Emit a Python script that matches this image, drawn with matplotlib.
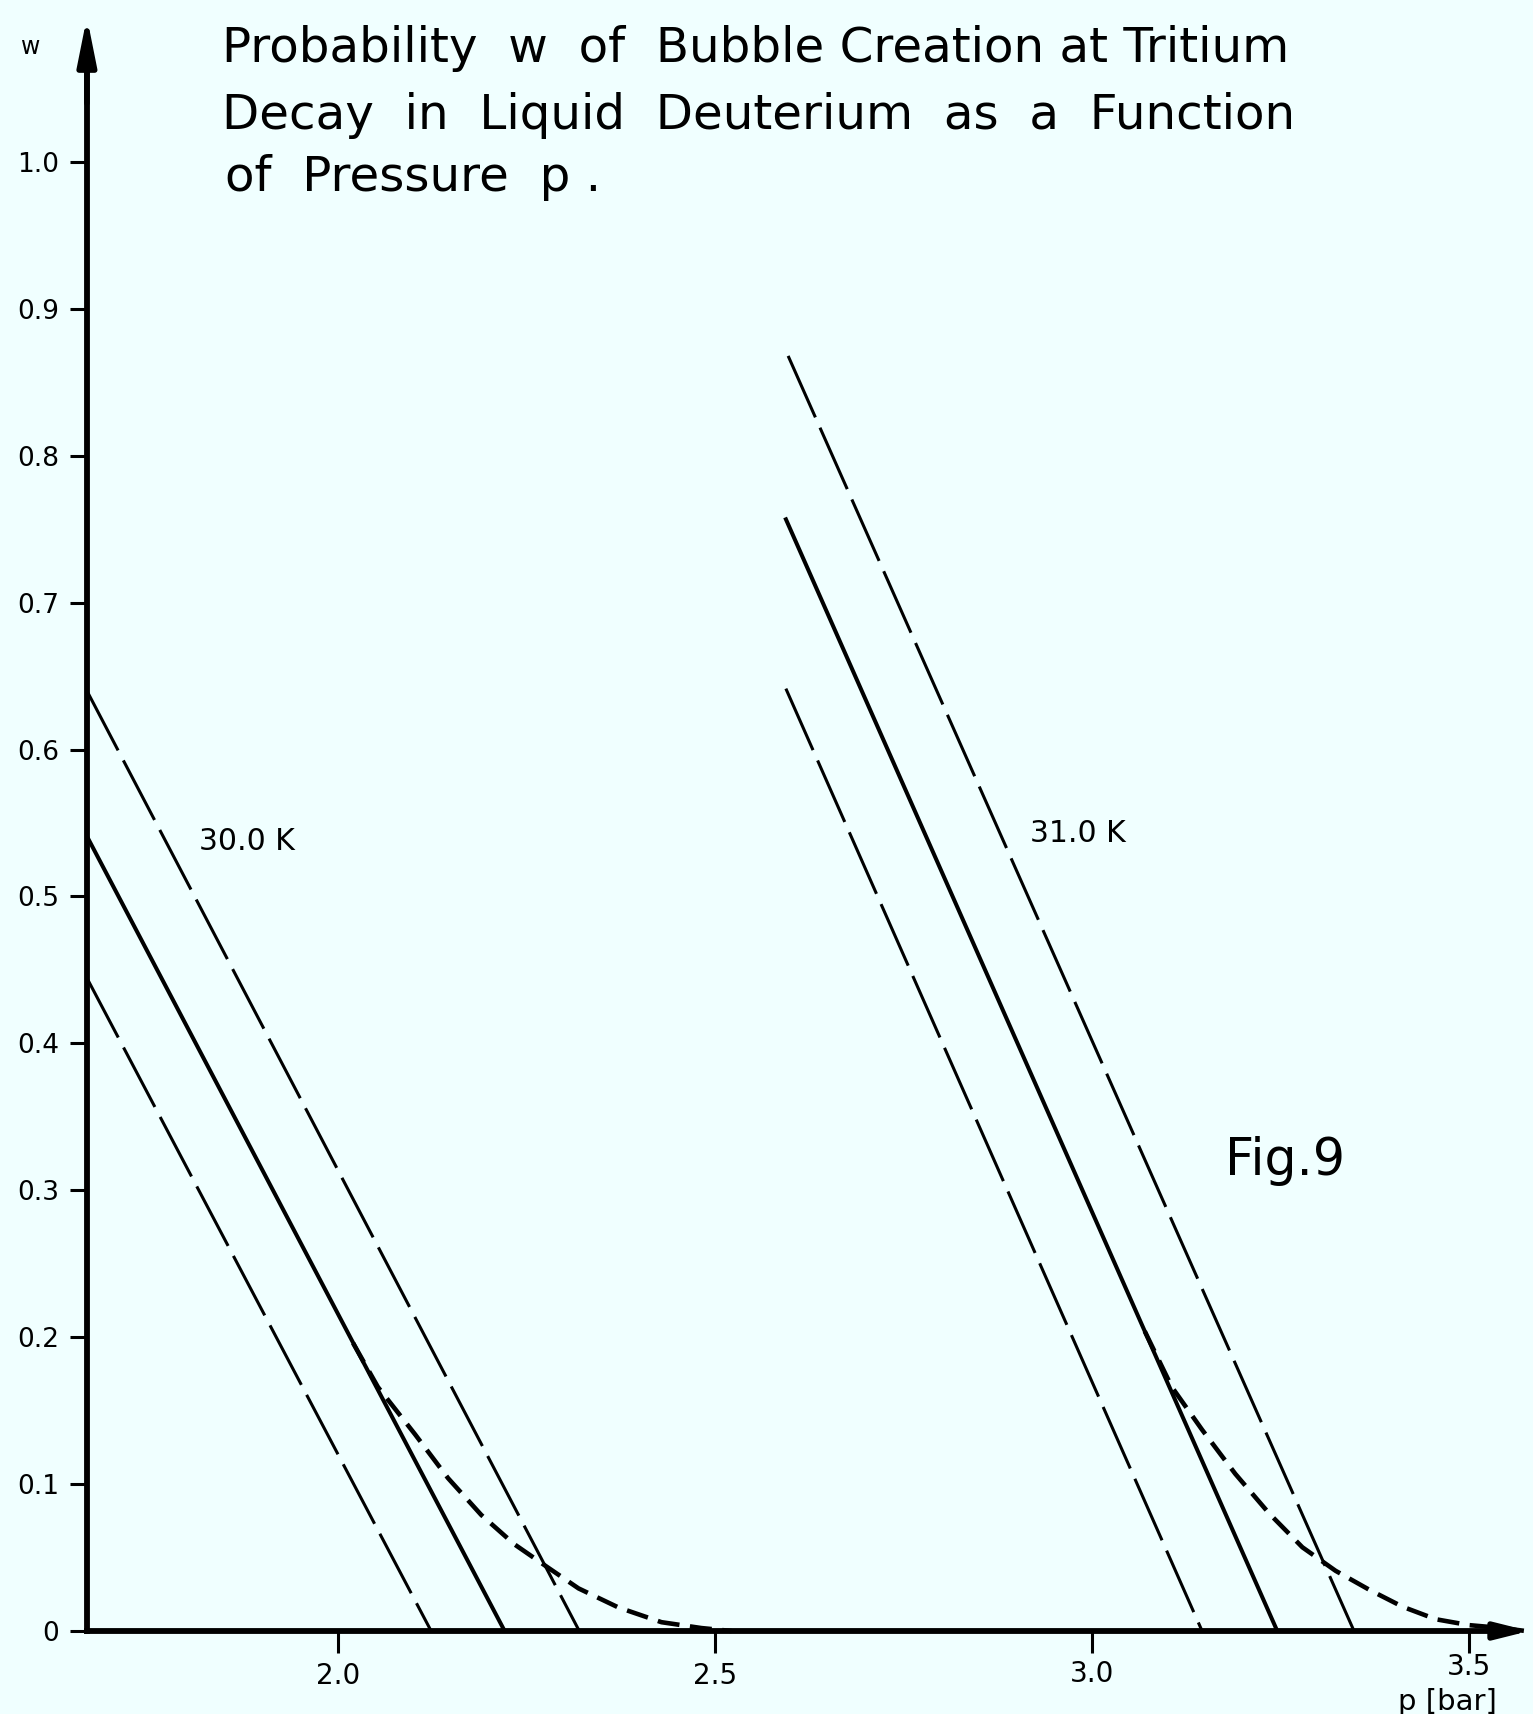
import matplotlib
matplotlib.use("Agg")
import matplotlib.pyplot as plt
from matplotlib import font_manager
from matplotlib.transforms import ScaledTranslation

# ---------------- data ----------------
x_ticks = [2.0, 2.5, 3.0, 3.5]
x_tick_labels = ["2.0", "2.5", "3.0", "3.5"]
y_ticks = [0.0, 0.1, 0.2, 0.3, 0.4, 0.5, 0.6, 0.7, 0.8, 0.9, 1.0]
y_tick_labels = ["0", "0.1", "0.2", "0.3", "0.4", "0.5", "0.6", "0.7", "0.8", "0.9", "1.0"]

# 30.0 K : straight lines (upper / central / lower)
k30_upper_p = [1.667, 2.320]
k30_upper_w = [0.640, 0.0]
k30_mid_p = [1.667, 2.221]
k30_mid_w = [0.541, 0.0]
k30_lower_p = [1.667, 2.1235]
k30_lower_w = [0.4445, 0.0]
# 30.0 K : smooth tail (short dashes)
k30_tail_p = [2.020, 2.053, 2.102, 2.146, 2.190, 2.234, 2.279, 2.319, 2.372, 2.429, 2.482, 2.522]
k30_tail_w = [0.196, 0.166, 0.134, 0.104, 0.079, 0.059, 0.043, 0.029, 0.016, 0.006, 0.002, 0.0]

# 31.0 K : straight lines
k31_upper_p = [2.597, 3.3475]
k31_upper_w = [0.868, 0.0]
k31_mid_p = [2.593, 3.2457]
k31_mid_w = [0.758, 0.0]
k31_lower_p = [2.594, 3.146]
k31_lower_w = [0.6415, 0.0]
# 31.0 K : smooth tail
k31_tail_p = [3.070, 3.106, 3.146, 3.190, 3.235, 3.279, 3.323, 3.368, 3.412, 3.456, 3.500, 3.544, 3.575]
k31_tail_w = [0.204, 0.166, 0.137, 0.107, 0.080, 0.057, 0.041, 0.028, 0.0165, 0.008, 0.004, 0.002, 0.0]

title_lines = ["Probability  w  of  Bubble Creation at Tritium",
               "Decay  in  Liquid  Deuterium  as  a  Function",
               "of  Pressure  p ."]

# ---------------- figure ----------------
W, H = 1533, 1714
BG = "#F0FFFF"
fig = plt.figure(figsize=(W / 100, H / 100), dpi=100, facecolor=BG)
ax = fig.add_axes([0, 0, 1, 1], facecolor=BG)

# pixel calibration: p=2.0 at x=338 px, 754 px per bar ; w=0 at y=1631 px, 1469 px per unit
px_per_bar = 754.0
px_per_w = 1469.0
ax.set_xlim(2.0 - 338 / px_per_bar, 2.0 + (W - 338) / px_per_bar)
ax.set_ylim(-(H - 1631) / px_per_w, 1631 / px_per_w)

p0 = 1.667  # position of the w axis

def fpx(x, y):
    return x / W, 1 - y / H

names = {f.name for f in font_manager.fontManager.ttflist}
title_font = "Liberation Sans Narrow" if "Liberation Sans Narrow" in names else "DejaVu Sans"
num_font = "DejaVu Sans"

# spines / axes
for s in ("top", "right"):
    ax.spines[s].set_visible(False)
ax.spines["left"].set_position(("data", p0))
ax.spines["bottom"].set_position(("data", 0.0))
ax.spines["left"].set_bounds(0.0, 1.06)
ax.spines["bottom"].set_bounds(p0, 3.55)
ax.spines["left"].set_linewidth(4.2)
ax.spines["bottom"].set_linewidth(4.2)

ax.set_yticks(y_ticks)
ax.set_yticklabels(y_tick_labels, fontfamily=num_font, fontsize=19)
ax.set_xticks(x_ticks)
ax.set_xticklabels(x_tick_labels, fontfamily=num_font, fontsize=20)
ax.tick_params(axis="y", direction="out", length=12, width=2.2, pad=8)
ax.tick_params(axis="x", direction="out", length=16, width=2.2, pad=6)
# the scanned x axis is slightly tilted: the 3.5 label sits a little higher
ax.get_xticklabels()[3].set_transform(
    ax.get_xticklabels()[3].get_transform() + ScaledTranslation(0, 9 / 100, fig.dpi_scale_trans))
ax.get_xticklabels()[2].set_transform(
    ax.get_xticklabels()[2].get_transform() + ScaledTranslation(0, 2 / 100, fig.dpi_scale_trans))

# arrow heads
ax.annotate("", xy=(p0, 1.0987), xytext=(p0, 1.04),
            arrowprops=dict(arrowstyle="-|>,head_length=1.4,head_width=0.28",
                            lw=4, color="black", shrinkA=0, shrinkB=0, mutation_scale=20))
ax.annotate("", xy=(3.58, 0.0), xytext=(3.53, 0.0),
            arrowprops=dict(arrowstyle="-|>,head_length=1.0,head_width=0.25",
                            lw=4, color="black", shrinkA=0, shrinkB=0, mutation_scale=20))

# curves
long_dash = (22, 3.7)
short_dash = (4.8, 2.3)
lw_dash = 2.2
lw_solid = 2.9
lw_tail = 3.3
for pp, ww in [(k30_upper_p, k30_upper_w), (k30_lower_p, k30_lower_w),
               (k31_upper_p, k31_upper_w), (k31_lower_p, k31_lower_w)]:
    ax.plot(pp, ww, color="black", lw=lw_dash, dashes=long_dash, solid_capstyle="butt",
            dash_capstyle="butt")
for pp, ww in [(k30_mid_p, k30_mid_w), (k31_mid_p, k31_mid_w)]:
    ax.plot(pp, ww, color="black", lw=lw_solid, solid_capstyle="butt")
for pp, ww in [(k30_tail_p, k30_tail_w), (k31_tail_p, k31_tail_w)]:
    ax.plot(pp, ww, color="black", lw=lw_tail, dashes=short_dash, dash_capstyle="butt",
            solid_joinstyle="round")

# texts
ax.text(*fpx(31, 47), "w", transform=fig.transFigure, ha="center", va="center",
        fontsize=17, fontfamily=num_font)
ax.text(*fpx(199, 842), "30.0 K", transform=fig.transFigure, ha="left", va="center",
        fontsize=21.5, fontfamily=num_font)
ax.text(*fpx(1030, 834), "31.0 K", transform=fig.transFigure, ha="left", va="center",
        fontsize=21.5, fontfamily=num_font)
fig_t = ax.text(*fpx(1225, 1161), "Fig.9", transform=fig.transFigure, ha="left", va="center",
                fontsize=33, fontfamily=title_font)
ax.text(*fpx(1447, 1702), "p [bar]", transform=fig.transFigure, ha="center", va="center",
        fontsize=21, fontfamily=num_font)

t_objs = []
for (xl, yb), line in zip([(222, 62), (222, 129), (225, 191)], title_lines):
    t_objs.append(ax.text(*fpx(xl, yb), line, transform=fig.transFigure, ha="left",
                          va="baseline", fontsize=36, fontfamily=title_font))

# fit title size to reference width of line 1 (1070 px)
fig.canvas.draw()
r = fig.canvas.get_renderer()
w1 = t_objs[0].get_window_extent(r).width
fs = 36 * 1070.0 / w1
for t in t_objs:
    t.set_fontsize(fs)
wf = fig_t.get_window_extent(r).width
fig_t.set_fontsize(33 * 120.0 / wf)

fig.savefig("out.png", dpi=100, facecolor=BG)
